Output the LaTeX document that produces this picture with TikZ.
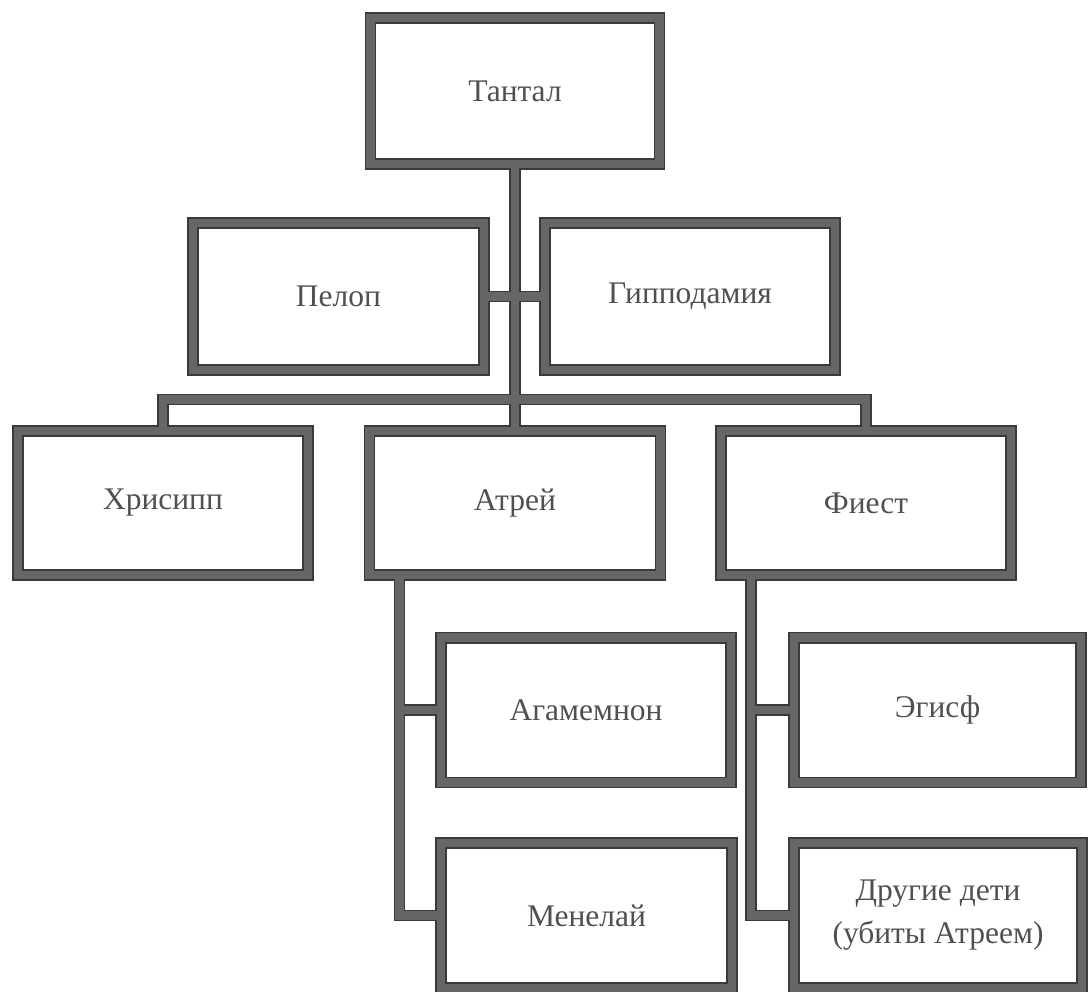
\documentclass[tikz,border=0pt]{standalone}
\usepackage{fontspec}
\setmainfont{Liberation Serif}
\usetikzlibrary{calc}
\definecolor{edgedark}{HTML}{3A3A3A}
\definecolor{edgegray}{HTML}{666666}
\definecolor{txt}{HTML}{505050}
\tikzset{
  box/.style={rectangle, inner sep=0pt, outer sep=0pt, minimum width=290pt,
    minimum height=145pt, text=txt, align=center,
    font=\fontsize{31.5}{43}\selectfont},
  darklayer/.style={draw=edgedark, line width=11.5pt, line join=miter},
  graylayer/.style={draw=edgegray, line width=8.8pt, line join=miter},
}
\newcommand\familylines[1]{%
  \foreach \b in {t,p,g,h,a,f,ag,m,e,d}{\draw[#1] (\b.north west) rectangle (\b.south east);}
  \draw[#1] (t.south) -- (a.north);
  \draw[#1] (p.east) -- (g.west);
  \draw[#1] (h.north) -- (h.north |- bar) -| (f.north);
  \draw[#1] (av) |- (m.west);
  \draw[#1] (ag.west) -- (ag.west -| av);
  \draw[#1] (fv) |- (d.west);
  \draw[#1] (e.west) -- (e.west -| fv);
}
\begin{document}
\begin{tikzpicture}[x=1pt,y=-1pt]
\useasboundingbox (0,0) rectangle (1088,992);
\node[box, minimum width=289pt, minimum height=146pt] (t) at (515,91) {Тантал};
\node[box, minimum width=291pt, minimum height=147pt] (p) at (338.5,296.5) {Пелоп};
\node[box, minimum height=147pt] (g) at (690,296.5) {Гипподамия};
\node[box, minimum height=144pt] (h) at (163,503) {Хрисипп};
\node[box, minimum width=291pt, minimum height=144pt] (a) at (515,503) {Атрей};
\node[box, minimum height=144pt] (f) at (866,503) {Фиест};
\node[box, minimum height=144.5pt] (ag) at (586,710) {Агамемнон};
\node[box, minimum width=291pt] (m) at (586.5,915.5) {Менелай};
\node[box, minimum width=287pt, minimum height=144.5pt] (e) at (937.5,710) {Эгисф};
\node[box, minimum width=288pt] (d) at (938,915.5) {Другие дети\\(убиты Атреем)};
\coordinate (bar) at (515,399.5);
\coordinate (av) at ($(a.south west)+(30,0)$);
\coordinate (fv) at ($(f.south west)+(30,0)$);
\familylines{darklayer}
\familylines{graylayer}
\end{tikzpicture}
\end{document}
